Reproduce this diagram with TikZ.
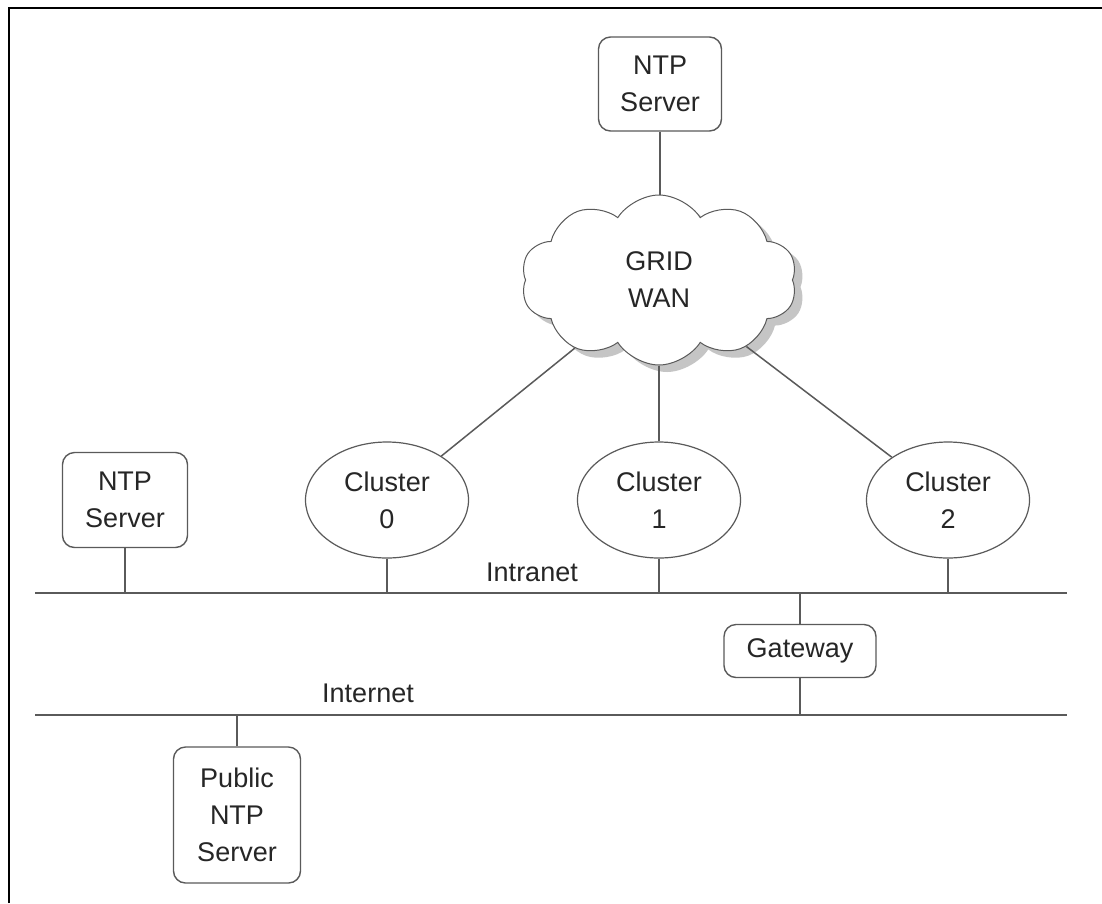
\documentclass[tikz,border=0pt]{standalone}
\usepackage{fontspec}
\setmainfont{Liberation Sans}
\usetikzlibrary{shapes.symbols,shapes.geometric,shadows}
\definecolor{ln}{HTML}{5A5A5A}
\definecolor{tx}{HTML}{262626}
\begin{document}
\begin{tikzpicture}[x=1pt,y=-1pt,
  every node/.style={text=tx,font=\fontsize{27}{37}\selectfont,align=center},
  srv/.style={draw=ln,line width=1.4pt,rounded corners=12pt,inner sep=0pt},
  clu/.style={draw=ln,line width=1.2pt,ellipse,minimum width=163pt,minimum height=116pt,inner sep=0pt},
  wire/.style={draw=ln,line width=1.5pt},
  lbl/.style={inner sep=0pt}]
\useasboundingbox[fill=white] (0,0) rectangle (1102,903);
\draw[black,line width=2pt] (9,903) -- (9,8) -- (1102,8);
% buses
\coordinate (iL) at (35,593);
\coordinate (iR) at (1067,593);
\coordinate (nL) at (35,715);
\coordinate (nR) at (1067,715);
\draw[wire] (iL) -- (iR);
\draw[wire] (nL) -- (nR);
\node[lbl] (intranet) at (532,572) {Intranet};
\node[lbl] (internet) at (368,693) {Internet};
% nodes
\node[srv,minimum width=123pt,minimum height=94pt] (ntptop) at (660,84) {NTP\\Server};
\node[cloud,cloud puffs=10,cloud puff arc=115,aspect=1.7,draw=ln,line width=1pt,fill=white,
  minimum width=276pt,minimum height=170pt,inner sep=0pt,
  drop shadow={shadow xshift=8pt,shadow yshift=-7pt,fill=black!45}] (cloud) at (659,280) {GRID\\WAN};
\node[srv,minimum width=125pt,minimum height=95pt] (ntpleft) at (125,500) {NTP\\Server};
\node[clu] (c0) at (387,500) {Cluster\\0};
\node[clu] (c1) at (659,500) {Cluster\\1};
\node[clu] (c2) at (948,500) {Cluster\\2};
\node[srv,minimum width=152pt,minimum height=53pt] (gw) at (800,651) {Gateway};
\node[srv,minimum width=127pt,minimum height=136pt] (pub) at (237,815) {Public\\NTP\\Server};
% connectors
\draw[wire] (ntptop) -- (ntptop |- cloud.north);
\draw[wire] (cloud) -- (c0);
\draw[wire] (cloud) -- (c1);
\draw[wire] (cloud) -- (c2);
\draw[wire] (ntpleft) -- (ntpleft |- iL);
\draw[wire] (c0) -- (c0 |- iL);
\draw[wire] (c1) -- (c1 |- iL);
\draw[wire] (c2) -- (c2 |- iL);
\draw[wire] (gw.north) -- (gw.north |- iL);
\draw[wire] (gw.south) -- (gw.south |- nL);
\draw[wire] (pub) -- (pub |- nL);
\end{tikzpicture}
\end{document}
